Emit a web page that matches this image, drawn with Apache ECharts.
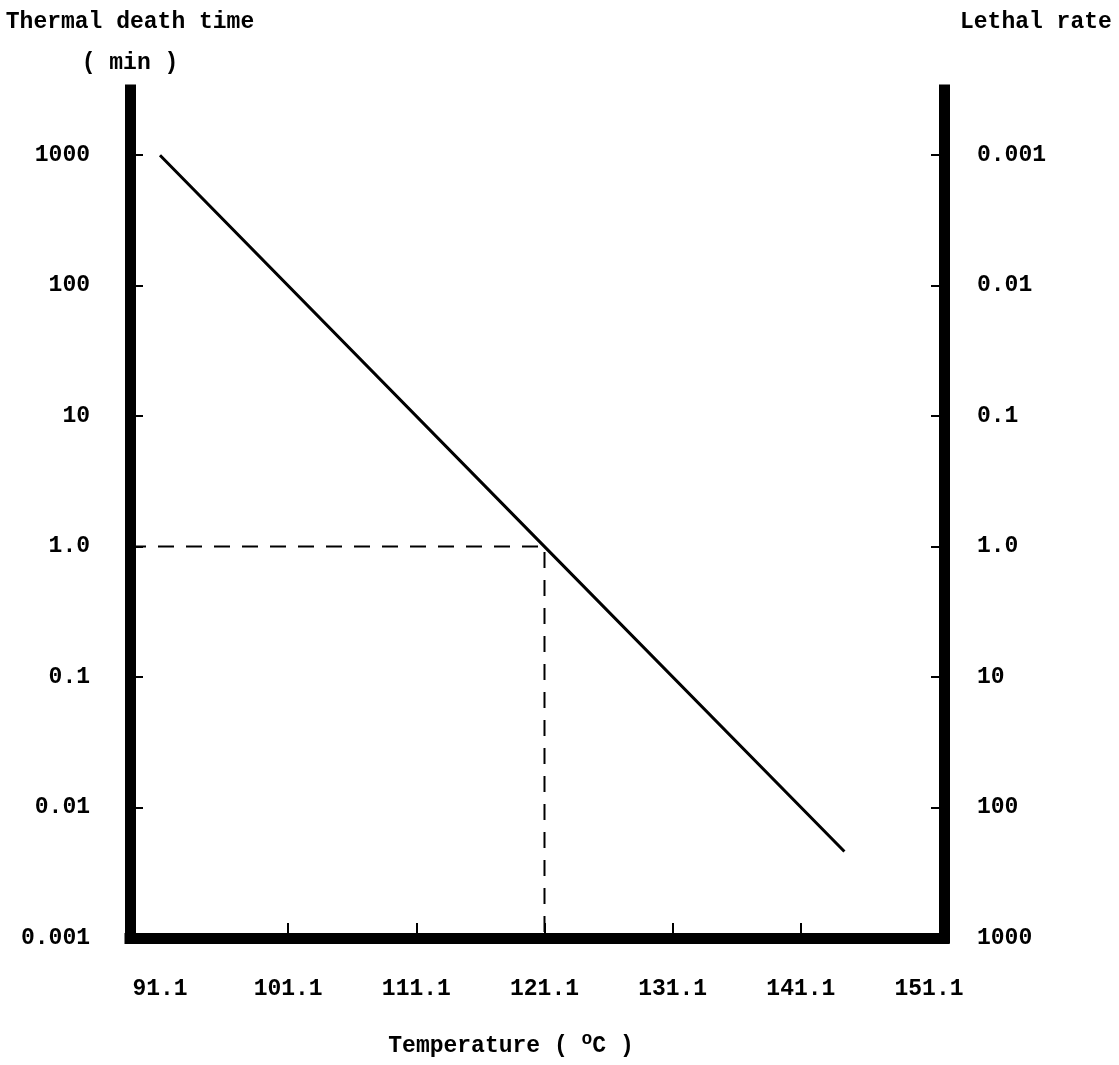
<!DOCTYPE html>
<html>
<head>
<meta charset="utf-8">
<title>Thermal death time</title>
<script src="https://cdn.jsdelivr.net/npm/echarts@6/dist/echarts.min.js"></script>
<style>
  html, body { margin: 0; padding: 0; background: #fff; }
  #main { width: 1119px; height: 1065px; }
</style>
</head>
<body>
<div id="main"></div>
<script>
// temperature ticks (deg C)
const tempTicks = [91.1, 101.1, 111.1, 121.1, 131.1, 141.1, 151.1]
// thermal death time ticks (min), left axis
const timeTicks = [1000, 100, 10, 1, 0.1, 0.01, 0.001]
const timeLabels = ['1000', '100', '10', '1.0', '0.1', '0.01', '0.001']
// lethal rate ticks, right axis (1 / time)
const rateTicks = [0.001, 0.01, 0.1, 1, 10, 100, 1000]
const rateLabels = ['0.001', '0.01', '0.1', '1.0', '10', '100', '1000']
// TDT curve: temperature, time
const curveTemp = [91.1, 121.1, 144.5]
const curveTime = [1000, 1.0, 0.0046]
// reference temperature and time for the dashed guides
const refTemp = 121.1
const refTime = 1.0

const FONT = 'Liberation Mono'
const xMin = 88.76
const xMax = 152.27
const yMin = 0.001
const yMax = Math.pow(10, 3.5)

function labelFor (ticks, labels) {
  return function (v) {
    let e = Math.round(Math.log10(v))
    for (let i = 0; i < ticks.length; i++) {
      if (Math.round(Math.log10(ticks[i])) === e) return labels[i]
    }
    return ''
  }
}

const axisLine = { show: true, lineStyle: { color: '#000', width: 11, cap: 'square' } }
const tickStyle = { color: '#000', width: 2 }
const txt = { fontFamily: FONT, fontSize: 23, color: '#000', fontWeight: 'bold' }

let chart = echarts.init(document.getElementById('main'))
chart.setOption({
  animation: false,
  backgroundColor: '#fff',
  grid: { left: 130, right: 175, top: 90, bottom: 127 },
  xAxis: {
    type: 'value',
    min: xMin,
    max: xMax,
    name: 'Temperature ( {sup|o}C )',
    nameLocation: 'middle',
    nameGap: 92,
    nameTextStyle: Object.assign({}, txt, {
      padding: [0, 52, 0, 0],
      rich: { sup: Object.assign({}, txt, { fontSize: 18, padding: [0, 0, 14, 0] }) }
    }),
    axisLine: Object.assign({ onZero: false }, axisLine),
    splitLine: { show: false },
    axisTick: {
      inside: true, length: 15, lineStyle: tickStyle,
      customValues: tempTicks.slice(1, -1)
    },
    axisLabel: Object.assign({}, txt, {
      customValues: tempTicks,
      formatter: v => v.toFixed(1),
      margin: 40
    })
  },
  yAxis: [{
    type: 'log',
    logBase: 10,
    min: yMin,
    max: yMax,
    position: 'left',
    name: 'Thermal death time\n( min )',
    nameLocation: 'end',
    nameGap: 6,
    nameTextStyle: Object.assign({}, txt, { lineHeight: 41, align: 'center' }),
    axisLine: axisLine,
    splitLine: { show: false },
    axisTick: { inside: true, length: 13, lineStyle: tickStyle, customValues: timeTicks },
    axisLabel: Object.assign({}, txt, {
      customValues: timeTicks,
      formatter: labelFor(timeTicks, timeLabels),
      margin: 40
    })
  }, {
    type: 'log',
    logBase: 10,
    min: 1 / yMax,
    max: 1000,
    inverse: true,
    position: 'right',
    name: 'Lethal rate',
    // axis is inverted, so its start is at the top
    nameLocation: 'start',
    nameGap: 56,
    nameTextStyle: Object.assign({}, txt, { lineHeight: 24, align: 'left', padding: [0, 0, 0, 16] }),
    axisLine: axisLine,
    splitLine: { show: false },
    axisTick: { inside: true, length: 13, lineStyle: tickStyle, customValues: rateTicks },
    axisLabel: Object.assign({}, txt, {
      customValues: rateTicks,
      formatter: labelFor(rateTicks, rateLabels),
      margin: 33
    })
  }],
  series: [{
    name: 'TDT',
    type: 'line',
    yAxisIndex: 0,
    showSymbol: false,
    lineStyle: { color: '#000', width: 3 },
    data: curveTemp.map((t, i) => [t, curveTime[i]])
  }, {
    name: 'guide',
    type: 'line',
    yAxisIndex: 0,
    showSymbol: false,
    lineStyle: { color: '#000', width: 2, type: [16, 12] },
    data: [[xMin, refTime], [refTemp, refTime], [refTemp, yMin]]
  }]
})
</script>
</body>
</html>
